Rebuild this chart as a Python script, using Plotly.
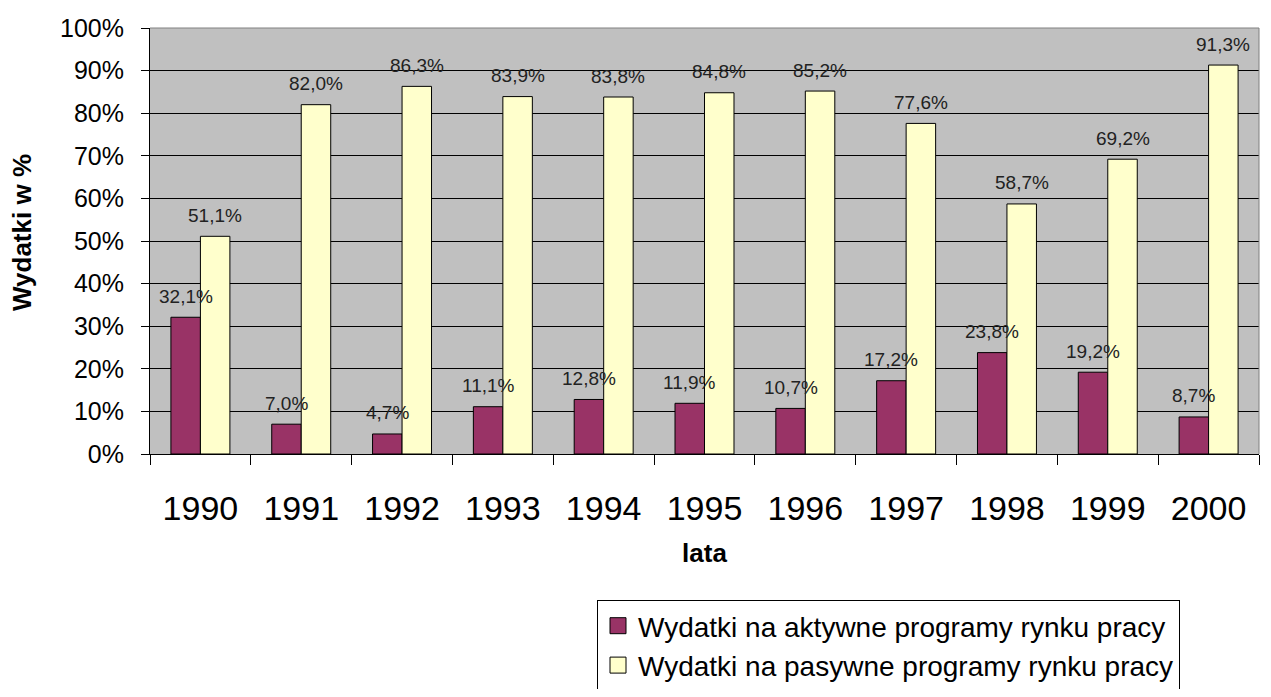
import plotly.graph_objects as go

years = ["1990", "1991", "1992", "1993", "1994", "1995", "1996", "1997", "1998", "1999", "2000"]
active = [32.1, 7.0, 4.7, 11.1, 12.8, 11.9, 10.7, 17.2, 23.8, 19.2, 8.7]
passive = [51.1, 82.0, 86.3, 83.9, 83.8, 84.8, 85.2, 77.6, 58.7, 69.2, 91.3]
series_names = ["Wydatki na aktywne programy rynku pracy",
                "Wydatki na pasywne programy rynku pracy"]
series_colors = ["#993366", "#FFFFCC"]
y_ticks = [0, 10, 20, 30, 40, 50, 60, 70, 80, 90, 100]
y_tick_labels = [f"{v}%" for v in y_ticks]

FONT = "Liberation Sans, Arial, sans-serif"

def fmt(v):
    return f"{v:.1f}%".replace(".", ",")

# the page body has an 8px margin, so the figure is sized/offset to compensate
W, H = 1255, 681
ML, MR, MT, MB = 142, 4, 20, 235

fig = go.Figure()
for vals, name, col in zip((active, passive), series_names, series_colors):
    fig.add_trace(go.Bar(x=years, y=vals, name=name, showlegend=False,
                         marker=dict(color=col, line=dict(color="black", width=1))))
# legend entries with larger square swatches
for name, col in zip(series_names, series_colors):
    fig.add_trace(go.Scatter(x=[None], y=[None], mode="markers", name=name,
                             marker=dict(symbol="square", size=18, color=col,
                                         line=dict(color="black", width=1))))

plot_w = W - ML - MR
plot_h = H - MT - MB
cat_w = plot_w / len(years)
bargap = 0.415
bar_w = cat_w * (1 - bargap) / 2

annotations = []
for i, y in enumerate(years):
    for vals, sign in ((active, -1), (passive, 1)):
        annotations.append(dict(x=i, y=vals[i], xref="x", yref="y",
                                text=fmt(vals[i]), showarrow=False,
                                xshift=sign * bar_w / 2, yshift=21,
                                yanchor="middle",
                                font=dict(family=FONT, size=19, color="#222222")))
# y-axis title as annotation
annotations.append(dict(xref="paper", yref="paper",
                        x=(14 - ML) / plot_w, y=1 - (225 - MT) / plot_h,
                        xanchor="center", yanchor="middle", textangle=-90,
                        text="<b>Wydatki w %</b>", showarrow=False,
                        font=dict(family=FONT, size=26, color="black")))

fig.update_layout(
    width=W, height=H,
    margin=dict(l=ML, r=MR, t=MT, b=MB, autoexpand=False),
    paper_bgcolor="white",
    plot_bgcolor="#C0C0C0",
    barmode="group",
    bargap=bargap,
    bargroupgap=0,
    font=dict(family=FONT, color="black"),
    showlegend=True,
    legend=dict(xref="container", yref="container",
                x=589 / W, y=1 - 592 / H, xanchor="left", yanchor="top",
                bordercolor="black", borderwidth=1, bgcolor="white",
                font=dict(family=FONT, size=28, color="black"),
                tracegroupgap=0, itemsizing="trace", itemwidth=30),
    annotations=annotations,
    shapes=[dict(type="path", xref="paper", yref="paper",
                 path="M 0,1 L 1,1 L 1,0", line=dict(color="#808080", width=1))],
)
fig.update_xaxes(
    type="category",
    categoryorder="array", categoryarray=years,
    range=[-0.5, len(years) - 0.5],
    automargin=False,
    showline=True, linecolor="black", linewidth=1,
    ticks="outside", ticklen=10, tickcolor="black", tickson="boundaries",
    tickfont=dict(family=FONT, size=34, color="black"),
    tickangle=0,
    ticklabelstandoff=24,
    showgrid=False,
    title=dict(text="<b>lata</b>", font=dict(family=FONT, size=26, color="black"), standoff=18),
)
fig.update_yaxes(
    range=[0, 100],
    automargin=False,
    tickvals=y_ticks, ticktext=y_tick_labels,
    showline=True, linecolor="black", linewidth=1,
    ticks="outside", ticklen=8, tickcolor="black",
    tickfont=dict(family=FONT, size=25, color="black"),
    ticklabelstandoff=12,
    showgrid=True, gridcolor="black", gridwidth=1,
    zeroline=False,
)

fig.write_html("out.html")
